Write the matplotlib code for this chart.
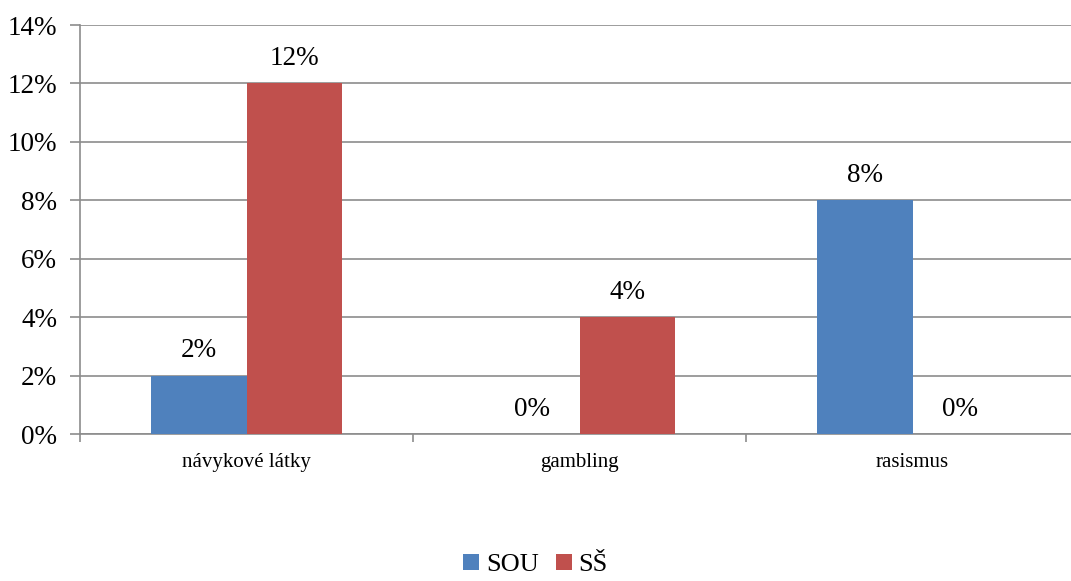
import matplotlib.pyplot as plt
import numpy as np

categories = ['návykové látky', 'gambling', 'rasismus']
sou = [2, 0, 8]
ss = [12, 4, 0]
series_names = ['SOU', 'SŠ']
yticks = [0, 2, 4, 6, 8, 10, 12, 14]

plt.rcParams['font.family'] = ['Liberation Serif', 'DejaVu Serif']

fig = plt.figure(figsize=(10.71, 5.81), dpi=100)
ax = fig.add_axes([80 / 1071, 147 / 581, 999 / 1071, 409 / 581])

x = np.arange(len(categories))
w = 0.286
b1 = ax.bar(x - w / 2, sou, w, color='#4F81BD', label=series_names[0], zorder=3)
b2 = ax.bar(x + w / 2, ss, w, color='#C0504D', label=series_names[1], zorder=3)

for bars, vals in ((b1, sou), (b2, ss)):
    for r, v in zip(bars, vals):
        ax.text(r.get_x() + r.get_width() / 2, v + 0.42, f'{v}%',
                ha='center', va='bottom', fontsize=19.5)

ax.set_xlim(-0.5, len(categories) - 0.5)
ax.set_ylim(0, 14)
ax.set_yticks(yticks)
ax.set_yticklabels([f'{t}%' for t in yticks], fontsize=19.5)
ax.yaxis.grid(True, color='#8c8c8c', linewidth=1.2, zorder=0)
ax.set_xticks(x)
ax.set_xticklabels(categories, fontsize=15)
ax.set_xticks(np.arange(len(categories) + 1) - 0.5, minor=True)
ax.tick_params(axis='x', which='major', length=0, pad=14)
ax.tick_params(axis='x', which='minor', length=6, color='#8c8c8c', width=1.2)
ax.tick_params(axis='y', length=7, color='#8c8c8c', width=1.2, pad=9.5)
for s in ('top', 'right'):
    ax.spines[s].set_visible(False)
for s in ('left', 'bottom'):
    ax.spines[s].set_color('#8c8c8c')
    ax.spines[s].set_linewidth(1.2)

fig.legend(loc='lower center', bbox_to_anchor=(0.5, -0.033), ncol=2, frameon=False,
           fontsize=19, handlelength=0.6, handleheight=0.6, handletextpad=0.25,
           columnspacing=0.65)

fig.savefig('out.png', dpi=100)
